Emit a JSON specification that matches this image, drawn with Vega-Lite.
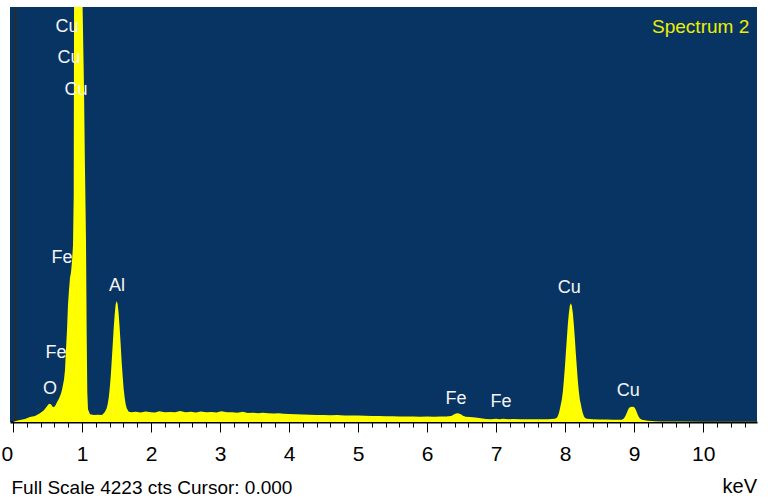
{
  "$schema": "https://vega.github.io/schema/vega-lite/v6.json",
  "width": 747,
  "height": 415,
  "autosize": {"type": "none"},
  "padding": {"left": 10, "top": 7, "right": 14, "bottom": 82},
  "background": "white",
  "config": {
    "view": {"fill": "#083463", "stroke": null},
    "font": "Liberation Sans, Arial, sans-serif",
    "axis": {"labelOverlap": false}
  },
  "title": {"text": "keV", "orient": "bottom", "anchor": "end", "frame": "group", "fontSize": 20, "fontWeight": "normal", "color": "black", "offset": -20},
  "resolve": {"axis": {"x": "independent"}},
  "datasets": {
    "spectrum": [
      {"keV": 0.000, "counts": 0}, {"keV": 0.043, "counts": 10}, {"keV": 0.101, "counts": 20}, {"keV": 0.174, "counts": 30},
      {"keV": 0.246, "counts": 50}, {"keV": 0.319, "counts": 60}, {"keV": 0.391, "counts": 90}, {"keV": 0.449, "counts": 120},
      {"keV": 0.493, "counts": 160}, {"keV": 0.522, "counts": 185}, {"keV": 0.551, "counts": 180}, {"keV": 0.580, "counts": 150},
      {"keV": 0.609, "counts": 160}, {"keV": 0.638, "counts": 200}, {"keV": 0.667, "counts": 240}, {"keV": 0.696, "counts": 290},
      {"keV": 0.710, "counts": 325}, {"keV": 0.725, "counts": 380}, {"keV": 0.739, "counts": 430}, {"keV": 0.754, "counts": 530},
      {"keV": 0.768, "counts": 735}, {"keV": 0.783, "counts": 935}, {"keV": 0.797, "counts": 1190}, {"keV": 0.812, "counts": 1345},
      {"keV": 0.826, "counts": 1465}, {"keV": 0.841, "counts": 1525}, {"keV": 0.855, "counts": 1630}, {"keV": 0.870, "counts": 1800},
      {"keV": 0.880, "counts": 2300}, {"keV": 0.887, "counts": 5000}, {"keV": 0.899, "counts": 9000}, {"keV": 0.928, "counts": 15000},
      {"keV": 0.957, "counts": 18000}, {"keV": 0.986, "counts": 15000}, {"keV": 1.000, "counts": 7000}, {"keV": 1.007, "counts": 4300},
      {"keV": 1.029, "counts": 3400}, {"keV": 1.043, "counts": 2600}, {"keV": 1.058, "counts": 1850}, {"keV": 1.068, "counts": 900},
      {"keV": 1.077, "counts": 300}, {"keV": 1.087, "counts": 130}, {"keV": 1.116, "counts": 80}, {"keV": 1.174, "counts": 70},
      {"keV": 1.232, "counts": 75}, {"keV": 1.290, "counts": 72}, {"keV": 1.329, "counts": 100}, {"keV": 1.358, "counts": 140},
      {"keV": 1.372, "counts": 181}, {"keV": 1.387, "counts": 244}, {"keV": 1.401, "counts": 337}, {"keV": 1.416, "counts": 461},
      {"keV": 1.430, "counts": 613}, {"keV": 1.445, "counts": 783}, {"keV": 1.459, "counts": 952}, {"keV": 1.474, "counts": 1097},
      {"keV": 1.488, "counts": 1197}, {"keV": 1.503, "counts": 1232}, {"keV": 1.517, "counts": 1197}, {"keV": 1.532, "counts": 1097},
      {"keV": 1.546, "counts": 952}, {"keV": 1.561, "counts": 783}, {"keV": 1.575, "counts": 613}, {"keV": 1.590, "counts": 461},
      {"keV": 1.604, "counts": 337}, {"keV": 1.619, "counts": 244}, {"keV": 1.633, "counts": 181}, {"keV": 1.648, "counts": 140},
      {"keV": 1.677, "counts": 105}, {"keV": 1.72, "counts": 98}, {"keV": 1.78, "counts": 104}, {"keV": 1.85, "counts": 96},
      {"keV": 1.92, "counts": 108}, {"keV": 2.00, "counts": 100}, {"keV": 2.06, "counts": 97}, {"keV": 2.12, "counts": 110},
      {"keV": 2.20, "counts": 99}, {"keV": 2.28, "counts": 103}, {"keV": 2.35, "counts": 98}, {"keV": 2.42, "counts": 112},
      {"keV": 2.50, "counts": 100}, {"keV": 2.58, "counts": 104}, {"keV": 2.65, "counts": 97}, {"keV": 2.72, "counts": 108},
      {"keV": 2.80, "counts": 99}, {"keV": 2.88, "counts": 102}, {"keV": 2.95, "counts": 96}, {"keV": 3.02, "counts": 110},
      {"keV": 3.10, "counts": 98}, {"keV": 3.18, "counts": 100}, {"keV": 3.25, "counts": 94}, {"keV": 3.33, "counts": 104},
      {"keV": 3.40, "counts": 92}, {"keV": 3.48, "counts": 95}, {"keV": 3.55, "counts": 90}, {"keV": 3.62, "counts": 93},
      {"keV": 3.70, "counts": 88}, {"keV": 3.78, "counts": 86}, {"keV": 3.85, "counts": 90}, {"keV": 3.92, "counts": 84},
      {"keV": 4.00, "counts": 82}, {"keV": 4.10, "counts": 78}, {"keV": 4.20, "counts": 76}, {"keV": 4.30, "counts": 74},
      {"keV": 4.40, "counts": 72}, {"keV": 4.50, "counts": 70}, {"keV": 4.60, "counts": 69}, {"keV": 4.70, "counts": 72},
      {"keV": 4.80, "counts": 67}, {"keV": 4.90, "counts": 66}, {"keV": 5.00, "counts": 65}, {"keV": 5.10, "counts": 63},
      {"keV": 5.20, "counts": 62}, {"keV": 5.30, "counts": 60}, {"keV": 5.40, "counts": 59}, {"keV": 5.50, "counts": 58},
      {"keV": 5.60, "counts": 57}, {"keV": 5.70, "counts": 55}, {"keV": 5.80, "counts": 56}, {"keV": 5.90, "counts": 54},
      {"keV": 6.00, "counts": 55}, {"keV": 6.10, "counts": 54}, {"keV": 6.20, "counts": 56}, {"keV": 6.28, "counts": 55},
      {"keV": 6.35, "counts": 62}, {"keV": 6.38, "counts": 75}, {"keV": 6.41, "counts": 84}, {"keV": 6.435, "counts": 88},
      {"keV": 6.46, "counts": 86}, {"keV": 6.49, "counts": 78}, {"keV": 6.52, "counts": 64}, {"keV": 6.56, "counts": 54},
      {"keV": 6.62, "counts": 50}, {"keV": 6.70, "counts": 45}, {"keV": 6.78, "counts": 38}, {"keV": 6.85, "counts": 30},
      {"keV": 6.92, "counts": 29}, {"keV": 7.00, "counts": 32}, {"keV": 7.05, "counts": 28}, {"keV": 7.10, "counts": 33},
      {"keV": 7.18, "counts": 28}, {"keV": 7.25, "counts": 30}, {"keV": 7.35, "counts": 28}, {"keV": 7.45, "counts": 27},
      {"keV": 7.55, "counts": 29}, {"keV": 7.65, "counts": 27}, {"keV": 7.75, "counts": 28}, {"keV": 7.851, "counts": 32},
      {"keV": 7.880, "counts": 44}, {"keV": 7.894, "counts": 60}, {"keV": 7.909, "counts": 90}, {"keV": 7.923, "counts": 130},
      {"keV": 7.938, "counts": 180}, {"keV": 7.952, "counts": 230}, {"keV": 7.967, "counts": 307}, {"keV": 7.981, "counts": 419},
      {"keV": 7.996, "counts": 552}, {"keV": 8.010, "counts": 699}, {"keV": 8.025, "counts": 850}, {"keV": 8.039, "counts": 991},
      {"keV": 8.054, "counts": 1106}, {"keV": 8.068, "counts": 1182}, {"keV": 8.083, "counts": 1208}, {"keV": 8.097, "counts": 1182},
      {"keV": 8.112, "counts": 1106}, {"keV": 8.126, "counts": 991}, {"keV": 8.141, "counts": 850}, {"keV": 8.155, "counts": 699},
      {"keV": 8.170, "counts": 552}, {"keV": 8.184, "counts": 419}, {"keV": 8.199, "counts": 307}, {"keV": 8.213, "counts": 230},
      {"keV": 8.228, "counts": 180}, {"keV": 8.242, "counts": 130}, {"keV": 8.257, "counts": 90}, {"keV": 8.271, "counts": 60},
      {"keV": 8.286, "counts": 44}, {"keV": 8.314, "counts": 32}, {"keV": 8.40, "counts": 28}, {"keV": 8.50, "counts": 26},
      {"keV": 8.60, "counts": 25}, {"keV": 8.70, "counts": 24}, {"keV": 8.822, "counts": 22}, {"keV": 8.851, "counts": 35},
      {"keV": 8.865, "counts": 50}, {"keV": 8.880, "counts": 70}, {"keV": 8.894, "counts": 95}, {"keV": 8.909, "counts": 120},
      {"keV": 8.923, "counts": 140}, {"keV": 8.938, "counts": 150}, {"keV": 8.967, "counts": 156}, {"keV": 8.996, "counts": 152},
      {"keV": 9.010, "counts": 142}, {"keV": 9.025, "counts": 122}, {"keV": 9.039, "counts": 97}, {"keV": 9.054, "counts": 72},
      {"keV": 9.068, "counts": 52}, {"keV": 9.083, "counts": 36}, {"keV": 9.112, "counts": 22}, {"keV": 9.20, "counts": 12},
      {"keV": 9.30, "counts": 8}, {"keV": 9.40, "counts": 6}, {"keV": 9.50, "counts": 5}, {"keV": 9.70, "counts": 4},
      {"keV": 10.00, "counts": 3}, {"keV": 10.40, "counts": 3}, {"keV": 10.78, "counts": 2}
    ],
    "labels": [
      {"label": "Cu", "keV": 0.783, "counts": 4020},
      {"label": "Cu", "keV": 0.812, "counts": 3704},
      {"label": "Cu", "keV": 0.913, "counts": 3378},
      {"label": "Fe", "keV": 0.710, "counts": 1669},
      {"label": "Al", "keV": 1.507, "counts": 1384},
      {"label": "Fe", "keV": 0.623, "counts": 702},
      {"label": "O", "keV": 0.536, "counts": 336},
      {"label": "Fe", "keV": 6.420, "counts": 234},
      {"label": "Fe", "keV": 7.072, "counts": 204},
      {"label": "Cu", "keV": 8.058, "counts": 1364},
      {"label": "Cu", "keV": 8.913, "counts": 315}
    ],
    "spectrumName": [
      {"label": "Spectrum 2", "keV": 10.667, "counts": 4020}
    ]
  },
  "layer": [
    {
      "data": {"name": "spectrum"},
      "mark": {"type": "area", "color": "#FFFF00", "clip": true, "interpolate": "linear"},
      "encoding": {
        "x": {
          "field": "keV", "type": "quantitative",
          "scale": {"domain": [-0.043, 10.78], "nice": false, "zero": false},
          "axis": {
            "orient": "bottom",
            "values": [0, 1, 2, 3, 4, 5, 6, 7, 8, 9, 10],
            "format": "d",
            "grid": false,
            "domainColor": "black",
            "domainWidth": 2,
            "tickColor": "black",
            "tickWidth": 1,
            "tickSize": 10,
            "labelOverlap": false,
            "labelFlush": false,
            "labelFontSize": 21,
            "labelColor": "black",
            "labelPadding": 11,
            "labelOffset": {"condition": {"test": "datum.value === 0", "value": -6}, "value": 0},
            "title": "Full Scale 4223 cts Cursor: 0.000",
            "titleFontSize": 19,
            "titleFontWeight": "normal",
            "titleColor": "black",
            "titleAnchor": "start",
            "titleAlign": "left",
            "titleBaseline": "alphabetic",
            "titleX": 1,
            "titleY": 71
          }
        },
        "y": {
          "field": "counts", "type": "quantitative",
          "scale": {"domain": [0, 4223], "nice": false, "zero": true},
          "axis": {"orient": "left", "domain": true, "domainColor": "#2a2a2a", "domainWidth": 2, "ticks": false, "labels": false, "grid": false, "title": null, "offset": -5}
        }
      }
    },
    {
      "data": {"name": "labels"},
      "mark": {"type": "text", "color": "#F4F4F4", "fontSize": 18, "align": "center", "baseline": "middle"},
      "encoding": {
        "x": {
          "field": "keV", "type": "quantitative",
          "axis": {
            "orient": "bottom",
            "values": [0.2,0.4,0.6,0.8,1.2,1.4,1.6,1.8,2.2,2.4,2.6,2.8,3.2,3.4,3.6,3.8,4.2,4.4,4.6,4.8,5.2,5.4,5.6,5.8,6.2,6.4,6.6,6.8,7.2,7.4,7.6,7.8,8.2,8.4,8.6,8.8,9.2,9.4,9.6,9.8,10.2,10.4,10.6],
            "domain": false,
            "grid": false,
            "labels": false,
            "tickColor": "black",
            "tickWidth": 1,
            "tickSize": 5,
            "title": null
          }
        },
        "y": {"field": "counts", "type": "quantitative"},
        "text": {"field": "label"}
      }
    },
    {
      "data": {"name": "spectrumName"},
      "mark": {"type": "text", "color": "#EEEE00", "fontSize": 19, "align": "right", "baseline": "middle"},
      "encoding": {
        "x": {"field": "keV", "type": "quantitative", "axis": null},
        "y": {"field": "counts", "type": "quantitative"},
        "text": {"field": "label"}
      }
    }
  ]
}
